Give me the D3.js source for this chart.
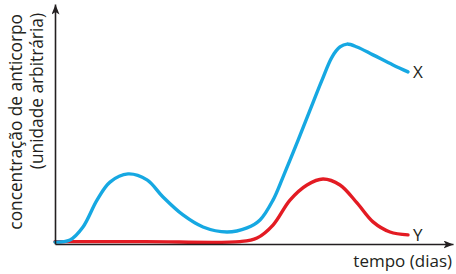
<!DOCTYPE html>
<html>
<head>
<meta charset="utf-8">
<script src="https://cdn.jsdelivr.net/npm/d3@7"></script>
<style>
  body { margin: 0; background: #fff; }
  text { font-family: "Open Sans", "Noto Sans", sans-serif; fill: #231f20; }
</style>
</head>
<body>
<svg id="chart"></svg>
<script>
// time in days (arbitrary), antibody concentration (arbitrary units)
const seriesX = [
  [0, 0.8], [1.5, 1.7], [2.8, 7.1], [4.2, 18.3], [5.5, 25.8], [7.3, 29.2],
  [9.2, 26.7], [10.8, 19.6], [12.8, 12.1], [14.8, 7.1], [17.2, 5],
  [19.2, 6.7], [20.5, 10], [21.8, 18.3], [22.8, 27.9], [24.2, 42.1],
  [25.5, 55.8], [26.7, 68.3], [27.7, 77.9], [28.5, 82.1], [29.2, 83.3],
  [30.2, 82.1], [31.8, 78.8], [33.8, 74.6], [35.3, 71.7]
];
const seriesY = [
  [0, 1], [9, 1], [18.5, 1], [20.2, 2.5], [21.8, 7.9], [23.5, 18.3],
  [25.2, 24.6], [26.8, 27.1], [28.5, 24.6], [30.2, 17.1], [31.8, 9.2],
  [33.5, 5], [35.3, 3.8]
];
const seriesLabels = ["X", "Y"];
const yTitle = ["concentração de anticorpo", "(unidade arbitrária)"];
const xTitle = "tempo (dias)";

const width = 456, height = 274;
const margin = { top: 4, right: 3, bottom: 30, left: 55 };

const svg = d3.select("#chart").attr("width", width).attr("height", height);

const x = d3.scaleLinear().domain([0, 39.8]).range([margin.left, width - margin.right]);
const y = d3.scaleLinear().domain([0, 100]).range([height - margin.bottom, margin.top]);

svg.append("defs").append("marker")
  .attr("id", "arrow")
  .attr("viewBox", "0 0 10 8")
  .attr("refX", 10).attr("refY", 4)
  .attr("markerWidth", 10).attr("markerHeight", 8)
  .attr("markerUnits", "userSpaceOnUse")
  .attr("orient", "auto")
  .append("path")
  .attr("d", "M0,0L10,4L0,8L2.5,4Z")
  .attr("fill", "#231f20");

const line = d3.line()
  .x(d => x(d[0]))
  .y(d => y(d[1]))
  .curve(d3.curveCatmullRom.alpha(0.5));

svg.append("path")
  .datum(seriesY)
  .attr("d", line)
  .attr("fill", "none")
  .attr("stroke", "#e31b23")
  .attr("stroke-width", 3.4)
  .attr("stroke-linecap", "round");

svg.append("path")
  .datum(seriesX)
  .attr("d", line)
  .attr("fill", "none")
  .attr("stroke", "#16a8e2")
  .attr("stroke-width", 3.4)
  .attr("stroke-linecap", "round");

// axes without ticks, arrows at the end
const gx = svg.append("g")
  .attr("transform", `translate(0,${y(0)})`)
  .call(d3.axisBottom(x).ticks(0).tickSizeOuter(0));
const gy = svg.append("g")
  .attr("transform", `translate(${x(0)},0)`)
  .call(d3.axisLeft(y).ticks(0).tickSizeOuter(0));
[gx, gy].forEach(g => {
  g.select(".domain")
    .attr("stroke", "#231f20")
    .attr("stroke-width", 1.6)
    .attr("marker-end", "url(#arrow)");
});

// series labels
const lastX = seriesX[seriesX.length - 1], lastY = seriesY[seriesY.length - 1];
[[lastX, seriesLabels[0]], [lastY, seriesLabels[1]]].forEach(([p, lab]) => {
  svg.append("text")
    .attr("x", x(p[0]) + 5)
    .attr("y", y(p[1]) + 6)
    .attr("font-size", 17)
    .text(lab);
});

// axis titles
svg.append("text")
  .attr("text-anchor", "end")
  .attr("transform", `translate(22,14) rotate(-90)`)
  .attr("font-size", 17.3)
  .text(yTitle[0]);
svg.append("text")
  .attr("text-anchor", "end")
  .attr("transform", `translate(43,13) rotate(-90)`)
  .attr("font-size", 17.3)
  .text(yTitle[1]);

svg.append("text")
  .attr("text-anchor", "end")
  .attr("x", 452)
  .attr("y", 267)
  .attr("font-size", 17)
  .text(xTitle);
</script>
</body>
</html>
